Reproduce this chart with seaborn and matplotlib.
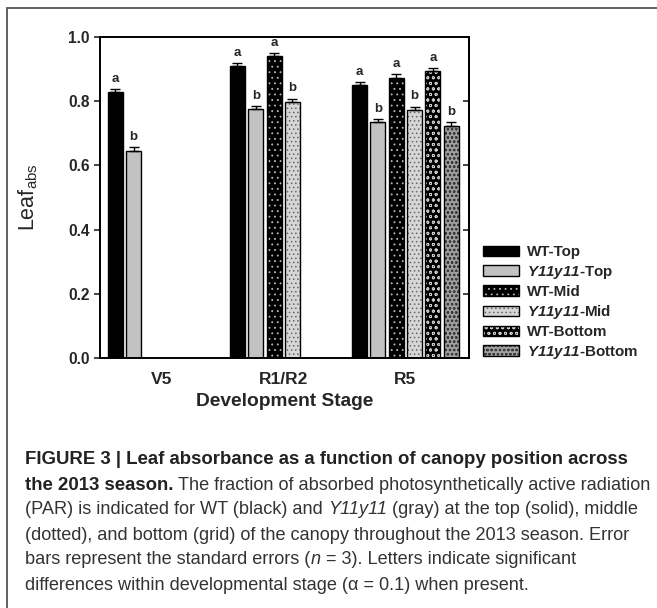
import numpy as np
import pandas as pd
import matplotlib
matplotlib.use("Agg")
import matplotlib.pyplot as plt
import seaborn as sns
from matplotlib.colors import to_rgba
from matplotlib.patches import Patch, Rectangle

# data
stages = ['V5', 'R1/R2', 'R5']
positions = ['WT-Top', 'Y11y11-Top', 'WT-Mid', 'Y11y11-Mid', 'WT-Bottom', 'Y11y11-Bottom']
wt_top = [0.829, 0.909, 0.849]
y11_top = [0.646, 0.776, 0.735]
wt_mid = [np.nan, 0.940, 0.873]
y11_mid = [np.nan, 0.798, 0.772]
wt_bottom = [np.nan, np.nan, 0.893]
y11_bottom = [np.nan, np.nan, 0.724]
se_wt_top = [0.010, 0.011, 0.010]
se_y11_top = [0.011, 0.010, 0.010]
se_wt_mid = [np.nan, 0.010, 0.011]
se_y11_mid = [np.nan, 0.010, 0.011]
se_wt_bottom = [np.nan, np.nan, 0.011]
se_y11_bottom = [np.nan, np.nan, 0.010]
letters = ['a', 'b', 'a', 'b', 'a', 'b']

legend_labels = ['WT-Top', r'$\mathsf{Y11y11}$-Top', 'WT-Mid', r'$\mathsf{Y11y11}$-Mid',
                 'WT-Bottom', r'$\mathsf{Y11y11}$-Bottom']

values = [wt_top, y11_top, wt_mid, y11_mid, wt_bottom, y11_bottom]
errors = [se_wt_top, se_y11_top, se_wt_mid, se_y11_mid, se_wt_bottom, se_y11_bottom]

rows = []
for pos, vals in zip(positions, values):
    for st, v in zip(stages, vals):
        if not np.isnan(v):
            rows.append({'stage': st, 'position': pos, 'value': v})
df = pd.DataFrame(rows)

sns.set_theme(style='white')
plt.rcParams['font.family'] = ['Liberation Sans', 'DejaVu Sans']
plt.rcParams['mathtext.fontset'] = 'custom'
plt.rcParams['mathtext.rm'] = 'Liberation Sans'
plt.rcParams['mathtext.sf'] = 'Liberation Sans:italic:bold'
plt.rcParams['mathtext.bf'] = 'Liberation Sans:bold'
plt.rcParams['hatch.linewidth'] = 0.6

# fill, hatch, hatch colour per position
fills = ['black', '#c2c2c2', 'black', '#d6d6d6', 'black', '#a0a0a0']
hatches = [None, None, '...', '....', 'ooo', 'oooo']
hatch_cols = [None, None, '#bbbbbb', '#666666', '#cccccc', '#3a3a3a']

fig = plt.figure(figsize=(6.57, 6.08), dpi=100)
ax = fig.add_axes([100 / 657, 1 - 358 / 608, 369 / 657, 321 / 608])

sns.barplot(data=df, x='stage', y='value', hue='position', order=stages,
            hue_order=positions, palette=fills, width=0.9, gap=0.18,
            errorbar=None, edgecolor='black', linewidth=1.0, saturation=1,
            legend=False, ax=ax)

bar_conts = list(ax.containers)
for i, cont in enumerate(bar_conts):
    for bar in cont:
        if bar is None or np.isnan(bar.get_height()):
            continue
        h = bar.get_height()
        if hatches[i]:
            bar.set_hatch(hatches[i])
            bar._hatch_color = to_rgba(hatch_cols[i])
        xc = bar.get_x() + bar.get_width() / 2
        k = int(round(xc))
        err = errors[i][k]
        ax.errorbar(xc, h, yerr=[[0], [err]], fmt='none', ecolor='black',
                    elinewidth=1.0, capsize=3.5, capthick=1.0, zorder=1)
        ax.annotate(letters[i], (xc, h + err), xytext=(0, 3), textcoords='offset points',
                    ha='center', va='bottom', fontsize=9.5, fontweight='bold')

ax.set_xlim(-0.5, 2.52)
ax.set_ylim(0, 1.0)
ax.set_yticks(np.arange(0, 1.01, 0.2))
ax.set_yticklabels([f'{t:.1f}' for t in np.arange(0, 1.01, 0.2)])
for s in ax.spines.values():
    s.set_visible(True)
    s.set_color('black')
    s.set_linewidth(1.4)
ax.tick_params(axis='y', direction='out', length=4, width=1.2, pad=3.5,
               labelsize=11.2, left=True)
ax.tick_params(axis='x', length=0, pad=10, labelsize=12.5)
for lab in ax.get_xticklabels() + ax.get_yticklabels():
    lab.set_fontweight('bold')

sec = ax.secondary_yaxis('right')
sec.set_yticks(np.arange(0, 1.01, 0.2))
sec.tick_params(direction='in', length=4, width=1.2, labelright=False)
sec.spines['right'].set_linewidth(1.4)

ax.set_xlabel('Development Stage', fontsize=13.8, fontweight='bold')
ax.xaxis.set_label_coords(0.5, -0.108)
ax.set_ylabel(r'Leaf$_{\mathrm{abs}}$', fontsize=15.5)
ax.yaxis.set_label_coords(-0.163, 0.5)

handles = []
for i in range(len(positions)):
    p = Patch(facecolor=fills[i], edgecolor='black', linewidth=1.0, hatch=hatches[i])
    if hatches[i]:
        p._hatch_color = to_rgba(hatch_cols[i])
    handles.append(p)
fig.legend(handles, legend_labels, loc='center left',
           bbox_to_anchor=(483 / 657, 1 - 303 / 608), frameon=False,
           prop={'weight': 'bold', 'size': 10.9}, handlelength=2.35, handleheight=0.7,
           handletextpad=0.55, labelspacing=0.28, borderpad=0, borderaxespad=0)

# outer frame (only top and left edges fall inside the picture)
fig.add_artist(Rectangle((7 / 657, -0.05), 1.1, 1.05 - 8 / 608, transform=fig.transFigure,
                         fill=False, edgecolor='#555555', linewidth=1.3))

# caption
renderer = fig.canvas.get_renderer()
cap_col = '#333333'


def text_width(s, size, **kw):
    t = fig.text(0, 0, s, fontsize=size, **kw)
    w = t.get_window_extent(renderer).width
    t.remove()
    return w


def caption_line(segments, y_px):
    x = 25 / 657
    for txt, kw in segments:
        kw = dict(kw)
        size = kw.pop('size', 13.1)
        col = kw.pop('color', cap_col)
        if txt.startswith(' '):
            x += (text_width('x x', size, **kw) - text_width('xx', size, **kw)) / 657
            txt = txt.lstrip(' ')
        t = fig.text(x, 1 - y_px / 608, txt, fontsize=size, color=col,
                     ha='left', va='center', **kw)
        x += t.get_window_extent(renderer).width / 657


B = {'fontweight': 'bold', 'color': '#222222', 'size': 13.4}
N = {}
I = {'fontstyle': 'italic'}

caption_line([('FIGURE 3 | Leaf absorbance as a function of canopy position across', B)], 460)
caption_line([('the 2013 season.', B), (' The fraction of absorbed photosynthetically active radiation', N)], 485)
caption_line([('(PAR) is indicated for WT (black) and', N), (' Y11y11', I),
              (' (gray) at the top (solid), middle', N)], 510)
caption_line([('(dotted), and bottom (grid) of the canopy throughout the 2013 season. Error', N)], 535)
caption_line([('bars represent the standard errors (', N), ('n', I),
              (' = 3). Letters indicate significant', N)], 560)
caption_line([('differences within developmental stage (\u03b1 = 0.1) when present.', N)], 585)

fig.savefig('out.png', dpi=100)
